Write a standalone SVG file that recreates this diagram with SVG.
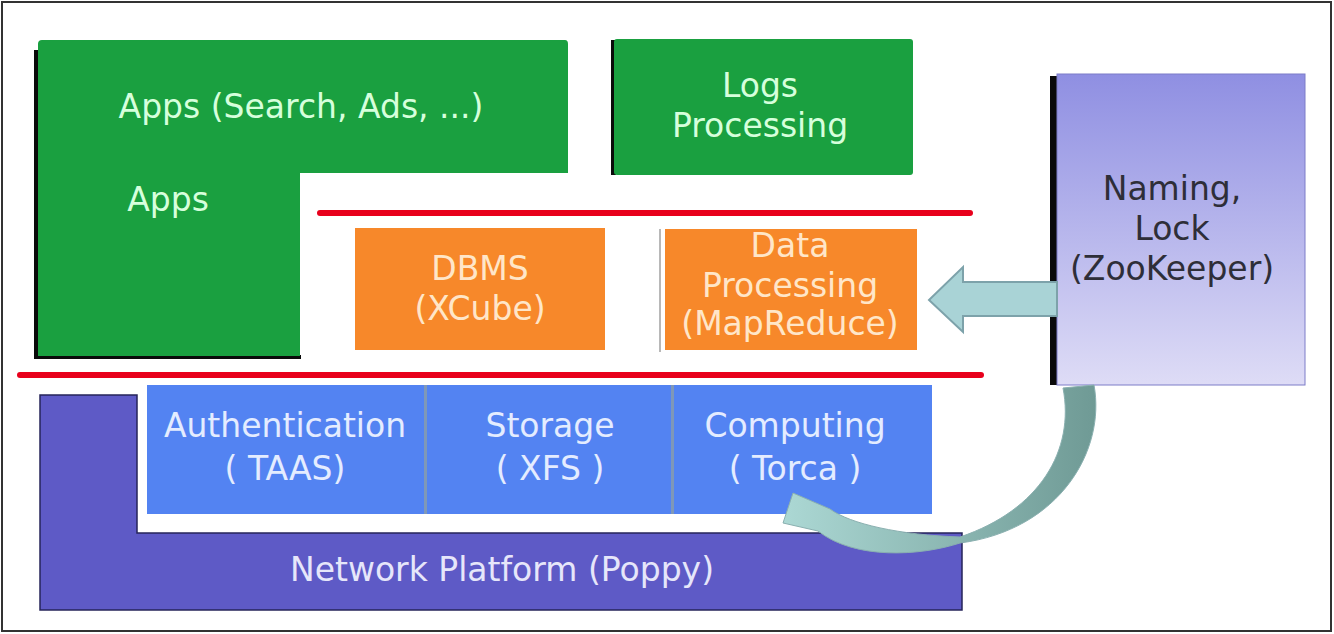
<svg xmlns="http://www.w3.org/2000/svg" width="1334" height="634" viewBox="0 0 1334 634">
<style>
text{font-family:"DejaVu Sans","Verdana",sans-serif;font-size:33px;text-anchor:middle}
.g{fill:#1aa040}
.gt{fill:#d6ffdc}
.o{fill:#f7882a}
.ot{fill:#ffe6c8}
.b{fill:#5383f2}
.bt{fill:#e4ecff}
.red{stroke:#e8001c;stroke-width:6;stroke-linecap:round}
.shadow{fill:#0a0a0a}
</style>
<defs>
<linearGradient id="nameGrad" x1="0" y1="0" x2="0" y2="1">
<stop offset="0" stop-color="#8f8fe2"/>
<stop offset="1" stop-color="#dedcf6"/>
</linearGradient>
<linearGradient id="curveGrad" x1="1" y1="0" x2="0" y2="0">
<stop offset="0" stop-color="#6f9a95"/>
<stop offset="1" stop-color="#acd8d4"/>
</linearGradient>
</defs>
<rect x="2" y="2" width="1329" height="629" fill="#ffffff" stroke="#333" stroke-width="2"/>

<g id="apps">
<path class="shadow" d="M34 50 L38 50 L38 355 L301 355 L301 359 L34 359 Z"/>
<path class="g" d="M42 40 L565 40 Q568 40 568 44 L568 173 L300 173 L300 356 L38 356 L38 44 Q38 40 42 40 Z"/>
<text class="gt" x="301" y="118">Apps (Search, Ads, ...)</text>
<text class="gt" x="168" y="211">Apps</text>
</g>

<g id="logs">
<rect class="shadow" x="611" y="40" width="5" height="135"/>
<rect class="g" x="614" y="39" width="299" height="136" rx="3"/>
<text class="gt" x="760" y="97">Logs</text>
<text class="gt" x="760" y="137">Processing</text>
</g>

<g id="separators">
<line class="red" x1="320" y1="213" x2="970" y2="213"/>
<line class="red" x1="20" y1="375" x2="981" y2="375"/>
</g>

<g id="dbms">
<rect class="o" x="355" y="228" width="250" height="122"/>
<text class="ot" x="480" y="280">DBMS</text>
<text class="ot" x="480" y="320">(XCube)</text>
</g>

<g id="dataproc">
<rect x="659" y="229" width="2" height="123" fill="#b8b8b8"/>
<rect class="o" x="665" y="229" width="252" height="121"/>
<text class="ot" x="790" y="257">Data</text>
<text class="ot" x="790" y="297">Processing</text>
<text class="ot" x="790" y="335">(MapReduce)</text>
</g>

<g id="zookeeper">
<rect class="shadow" x="1050" y="76" width="8" height="309"/>
<rect x="1057" y="74" width="248" height="311" fill="url(#nameGrad)" stroke="#7c7cc8" stroke-width="1"/>
<text x="1172" y="200" fill="#2e2e38">Naming,</text>
<text x="1172" y="240" fill="#2e2e38">Lock</text>
<text x="1172" y="280" fill="#2e2e38">(ZooKeeper)</text>
</g>

<g id="services">
<rect class="b" x="147" y="385" width="785" height="129"/>
<rect x="424" y="385" width="3" height="129" fill="#7f98b8"/>
<rect x="671" y="385" width="3" height="129" fill="#7f98b8"/>
<text class="bt" x="285" y="437">Authentication</text>
<text class="bt" x="285" y="480">( TAAS)</text>
<text class="bt" x="550" y="437">Storage</text>
<text class="bt" x="550" y="480">( XFS )</text>
<text class="bt" x="795" y="437">Computing</text>
<text class="bt" x="795" y="480">( Torca )</text>
</g>

<g id="network">
<path d="M40 395 L137 395 L137 533 L962 533 L962 610 L40 610 Z" fill="#5e5ac6" stroke="#26245a" stroke-width="1.5"/>
<text x="502" y="581" fill="#e6e6fa">Network Platform (Poppy)</text>
</g>

<g id="connectors">
<path d="M1057 282 L963 282 L963 267 L929 300 L963 332 L963 316 L1057 316 Z" fill="#a9d3d6" stroke="#7da2aa" stroke-width="2" stroke-linejoin="miter"/>
<path d="M1063 388 L1094 385 C1106 450 1060 530 960 543 C920 556 855 560 818 531 L783 523 L793 493 L830 509 C850 524 900 535 960 537 C1040 510 1075 450 1063 388 Z" fill="url(#curveGrad)" stroke="#8ab0b0" stroke-width="1"/>
</g>
</svg>
